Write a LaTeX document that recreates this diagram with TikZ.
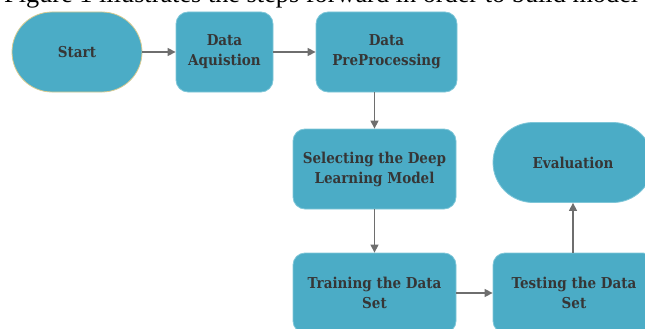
\documentclass[tikz,border=0pt]{standalone}
\usepackage{fontspec}
\setmainfont{Liberation Serif}
\newfontfamily\boxfont{DejaVu Serif Condensed}
\usetikzlibrary{arrows.meta}
\definecolor{boxfill}{HTML}{4BACC6}
\definecolor{boxedge}{HTML}{7FC6D8}
\definecolor{startedge}{HTML}{D8CB92}
\definecolor{txt}{HTML}{363636}
\definecolor{arr}{HTML}{6E6E6E}
\tikzset{
  stepbox/.style={rectangle, fill=boxfill, draw=boxedge, line width=0.8pt,
    rounded corners=12pt, minimum height=80pt, align=center, text=txt,
    font=\boxfont\bfseries\fontsize{15}{20}\selectfont, inner sep=2pt},
  termbox/.style={stepbox, rounded corners=40pt},
  flow/.style={draw=arr, line width=1.4pt, -{Triangle[length=8pt,width=8pt]}}
}
\begin{document}
\begin{tikzpicture}[x=1pt,y=-1pt]
\useasboundingbox (0,0) rectangle (645,329);
\clip (0,0) rectangle (645,329);
\node[anchor=base west, font=\fontsize{26.3}{30}\selectfont, inner sep=0pt] (cap) at (4,3) {Figure 1 illustrates the steps forward in order to build model};
\node[termbox, draw=startedge, minimum width=130pt] (start) at (77,52) {Start};
\node[stepbox, minimum width=97pt] (acq) at (224.5,52) {Data\\Aquistion};
\node[stepbox, minimum width=141pt] (pre) at (386.5,52) {Data\\PreProcessing};
\node[stepbox, minimum width=163pt] (sel) at (374.5,169) {Selecting the Deep\\Learning Model};
\node[stepbox, minimum width=163pt] (train) at (374.5,293) {Training the Data\\Set};
\node[stepbox, minimum width=162pt] (test) at (574,293) {Testing the Data\\Set};
\node[termbox, minimum width=160pt] (eval) at (573,162.5) {Evaluation};
\draw[flow] (start) -- (acq);
\draw[flow] (acq) -- (pre);
\draw[flow] (pre.south -| sel.north) -- (sel.north);
\draw[flow] (sel) -- (train);
\draw[flow] (train) -- (test);
\draw[flow] (test.north -| eval.south) -- (eval.south);
\end{tikzpicture}
\end{document}
